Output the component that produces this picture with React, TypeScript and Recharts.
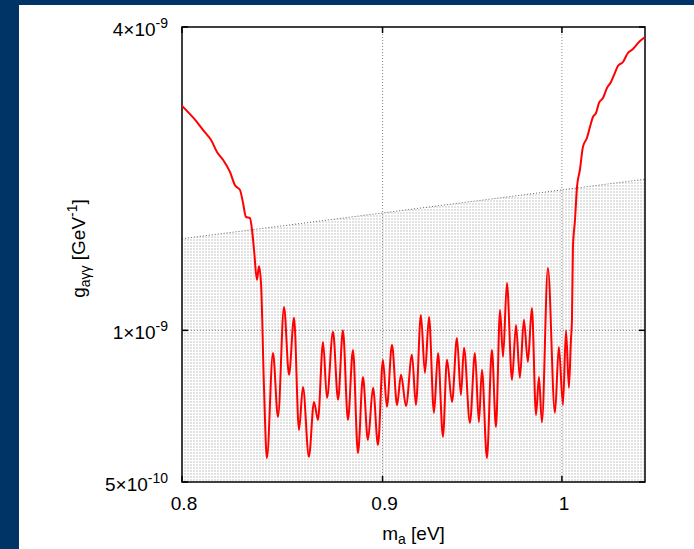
import {
  Area,
  ComposedChart,
  Line,
  ReferenceArea,
  ReferenceLine,
  XAxis,
  YAxis,
} from "recharts";

// axion mass m_a [eV]
const massValues = [
  0.8, 0.8061, 0.8109, 0.8137, 0.8166, 0.8195, 0.8229, 0.8253, 0.8277, 0.8292,
  0.8306, 0.8326, 0.8336, 0.8346, 0.836, 0.837, 0.838, 0.8395, 0.8409, 0.8439,
  0.8464, 0.8494, 0.8519, 0.8544, 0.8569, 0.8589, 0.8619, 0.8645, 0.8665, 0.8691,
  0.8711, 0.8742, 0.8768, 0.8793, 0.8819, 0.8845, 0.8871, 0.8897, 0.8923, 0.895,
  0.8976, 0.9002, 0.9023, 0.905, 0.9077, 0.9098, 0.9125, 0.9157, 0.9178, 0.9205,
  0.9227, 0.9249, 0.9276, 0.9298, 0.9325, 0.9347, 0.9375, 0.9402, 0.9424, 0.9441,
  0.9474, 0.9502, 0.9524, 0.9541, 0.9569, 0.9597, 0.962, 0.9643, 0.966, 0.9682,
  0.9711, 0.9734, 0.9756, 0.9779, 0.9802, 0.9825, 0.9849, 0.9866, 0.9883, 0.9918,
  0.9959, 0.9982, 1.0006, 1.0024, 1.0041, 1.0053, 1.0059, 1.0065, 1.0077, 1.0089,
  1.0106, 1.0124, 1.0148, 1.0166, 1.0184, 1.0202, 1.022, 1.0244, 1.0268, 1.0292,
  1.0316, 1.0334, 1.0365, 1.0395, 1.0426, 1.0463, 1.05,
];

// coupling g_aγγ, in units of 1e-9 GeV^-1
const couplingValues = [
  2.79, 2.62, 2.47, 2.39, 2.26, 2.18, 2.06, 1.94, 1.9, 1.79,
  1.68, 1.67, 1.58, 1.44, 1.26, 1.34, 1.24, 0.762, 0.558, 0.902,
  0.673, 1.113, 0.816, 1.059, 0.634, 0.772, 0.561, 0.721, 0.664, 0.948,
  0.734, 0.993, 0.728, 1.0, 0.664, 0.914, 0.571, 0.808, 0.606, 0.769,
  0.592, 0.874, 0.705, 0.936, 0.711, 0.816, 0.708, 0.894, 0.711, 1.073,
  0.823, 1.063, 0.686, 0.902, 0.615, 0.874, 0.721, 0.966, 0.744, 0.923,
  0.655, 0.902, 0.657, 0.835, 0.558, 0.914, 0.643, 1.098, 0.886, 1.242,
  0.797, 1.025, 0.805, 1.049, 0.866, 1.108, 0.679, 0.808, 0.657, 1.33,
  0.686, 0.927, 0.711, 1.0, 0.769, 0.957, 1.049, 1.464, 1.656, 1.926,
  2.081, 2.312, 2.409, 2.533, 2.651, 2.7, 2.827, 2.892, 3.027, 3.111,
  3.242, 3.347, 3.409, 3.552, 3.617, 3.735, 3.821,
];

// shaded excluded region (upper edge)
const limitMass = [0.8, 1.05];
const limitCoupling = [1.52, 1.995];

const xDomain = [0.8, 1.05];
const yDomain = [0.5, 4];
const xTicks = [0.8, 0.9, 1];
const xTickLabels = ["0.8", "0.9", "1"];
const yTicks = [0.5, 1, 4];
const yTickMantissa = ["5", "1", "4"];
const yTickExponent = ["-10", "-9", "-9"];

const curveData = massValues.map((m, i) => ({ m, g: couplingValues[i] }));
const limitData = limitMass.map((m, i) => ({ m, g: limitCoupling[i] }));

const CHART_W = 675;
const CHART_H = 544;
const PLOT_LEFT = 163;
const PLOT_RIGHT = 626;
const PLOT_TOP = 22;
const PLOT_BOTTOM = 477;
const TICK_LEN = 6;
const FONT = "'Liberation Sans', Arial, sans-serif";
const FONT_SIZE = 19;
const SMALL_SIZE = 14;

const XTick = (props: any) => {
  const { x, index } = props;
  return (
    <g>
      <line x1={x} x2={x} y1={PLOT_BOTTOM} y2={PLOT_BOTTOM - TICK_LEN} stroke="#000" strokeWidth={1.5} />
      <line x1={x} x2={x} y1={PLOT_TOP} y2={PLOT_TOP + TICK_LEN} stroke="#000" strokeWidth={1.5} />
      <text x={x + 2} y={PLOT_BOTTOM + 28} textAnchor="middle" fontSize={FONT_SIZE} fontFamily={FONT} fill="#000">
        {xTickLabels[index]}
      </text>
    </g>
  );
};

const YTick = (props: any) => {
  const { y, index } = props;
  return (
    <g>
      <line x1={PLOT_LEFT} x2={PLOT_LEFT + TICK_LEN} y1={y} y2={y} stroke="#000" strokeWidth={1.5} />
      <line x1={PLOT_RIGHT - TICK_LEN} x2={PLOT_RIGHT} y1={y} y2={y} stroke="#000" strokeWidth={1.5} />
      <text x={PLOT_LEFT - 14} y={y + 9} textAnchor="end" fontSize={FONT_SIZE} fontFamily={FONT} fill="#000">
        {yTickMantissa[index]}×10
        <tspan dy={-8} fontSize={SMALL_SIZE}>
          {yTickExponent[index]}
        </tspan>
      </text>
    </g>
  );
};

export default function App() {
  return (
    <div
      style={{
        position: "absolute",
        left: 0,
        top: 0,
        width: 694,
        height: 549,
        background: "#003366",
        overflow: "hidden",
      }}
    >
      <div
        style={{
          position: "absolute",
          left: 19,
          top: 5,
          width: CHART_W,
          height: CHART_H,
          background: "#fff",
        }}
      >
        <ComposedChart
          width={CHART_W}
          height={CHART_H}
          margin={{ top: 22, right: 49, bottom: 7, left: 63 }}
        >
          <defs>
            <pattern id="shade" width={3} height={3} patternUnits="userSpaceOnUse">
              <rect width={2} height={2} fill="#e2e2e2" />
            </pattern>
          </defs>
          <XAxis
            dataKey="m"
            type="number"
            scale="log"
            domain={xDomain}
            ticks={xTicks}
            interval={0}
            allowDataOverflow
            axisLine={false}
            tickLine={false}
            tick={XTick}
            height={60}
          />
          <YAxis
            dataKey="g"
            type="number"
            scale="log"
            domain={yDomain}
            ticks={yTicks}
            interval={0}
            allowDataOverflow
            axisLine={false}
            tickLine={false}
            tick={YTick}
            width={100}
          />
          <Area
            data={limitData}
            dataKey="g"
            type="linear"
            stroke="#666"
            strokeWidth={1}
            strokeDasharray="1 2"
            fill="url(#shade)"
            fillOpacity={1}
            dot={false}
            activeDot={false}
            isAnimationActive={false}
          />
          {xTicks.slice(1).map((t) => (
            <ReferenceLine key={`vx${t}`} x={t} stroke="#888" strokeDasharray="1 2" />
          ))}
          {yTicks.slice(1, -1).map((t) => (
            <ReferenceLine key={`hy${t}`} y={t} stroke="#888" strokeDasharray="1 2" />
          ))}
          <Line
            data={curveData}
            dataKey="g"
            type="monotone"
            stroke="#ff0000"
            strokeWidth={2}
            dot={false}
            activeDot={false}
            isAnimationActive={false}
          />
          <ReferenceArea
            x1={xDomain[0]}
            x2={xDomain[1]}
            y1={yDomain[0]}
            y2={yDomain[1]}
            fill="none"
            fillOpacity={0}
            stroke="#000"
            strokeWidth={1.5}
          />
        </ComposedChart>
        <svg
          width={CHART_W}
          height={CHART_H}
          style={{ position: "absolute", left: 0, top: 0, pointerEvents: "none" }}
        >
          <text
            x={(PLOT_LEFT + PLOT_RIGHT) / 2}
            y={535}
            textAnchor="middle"
            fontSize={FONT_SIZE}
            fontFamily={FONT}
            fill="#000"
          >
            m
            <tspan dy={4} fontSize={SMALL_SIZE}>
              a
            </tspan>
            <tspan dy={-4}> [eV]</tspan>
          </text>
          <text
            x={66}
            y={(PLOT_TOP + PLOT_BOTTOM) / 2 - 6}
            transform={`rotate(-90 66 ${(PLOT_TOP + PLOT_BOTTOM) / 2 - 6})`}
            textAnchor="middle"
            fontSize={FONT_SIZE}
            fontFamily={FONT}
            fill="#000"
          >
            g
            <tspan dy={5} fontSize={SMALL_SIZE}>
              aγγ
            </tspan>
            <tspan dy={-5}> [GeV</tspan>
            <tspan dy={-8} fontSize={SMALL_SIZE}>
              -1
            </tspan>
            <tspan dy={8}>]</tspan>
          </text>
        </svg>
      </div>
    </div>
  );
}
